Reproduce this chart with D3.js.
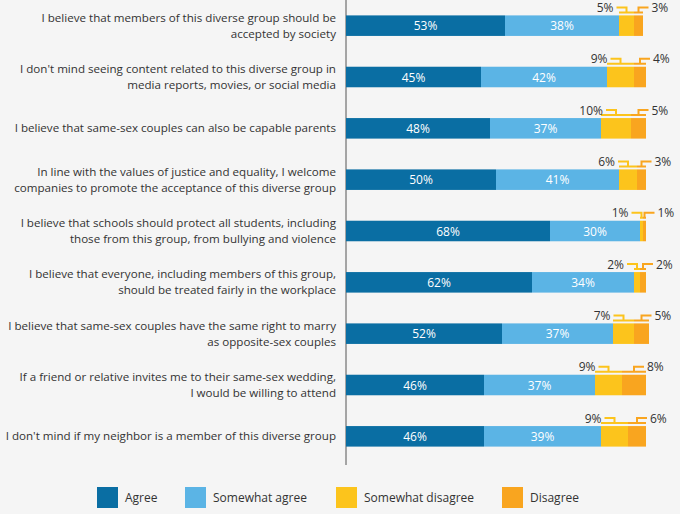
<!DOCTYPE html>
<html lang="en">
<head>
<meta charset="UTF-8">
<script src="https://cdn.jsdelivr.net/npm/d3@7"></script>
<style>
  body { margin: 0; background: #f5f5f5; }
  svg { font-family: "Open Sans", "Noto Sans", sans-serif; }
</style>
</head>
<body>
<svg id="chart" width="680" height="514"></svg>
<script>
var statements = [
  ["I believe that members of this diverse group should be", "accepted by society"],
  ["I don't mind seeing content related to this diverse group in", "media reports, movies, or social media"],
  ["I believe that same-sex couples can also be capable parents"],
  ["In line with the values of justice and equality, I welcome", "companies to promote the acceptance of this diverse group"],
  ["I believe that schools should protect all students, including", "those from this group, from bullying and violence"],
  ["I believe that everyone, including members of this group,", "should be treated fairly in the workplace"],
  ["I believe that same-sex couples have the same right to marry", "as opposite-sex couples"],
  ["If a friend or relative invites me to their same-sex wedding,", "I would be willing to attend"],
  ["I don't mind if my neighbor is a member of this diverse group"]
];
var agree = [53, 45, 48, 50, 68, 62, 52, 46, 46];
var somewhatAgree = [38, 42, 37, 41, 30, 34, 37, 37, 39];
var somewhatDisagree = [5, 9, 10, 6, 1, 2, 7, 9, 9];
var disagree = [3, 4, 5, 3, 1, 2, 5, 8, 6];
var seriesNames = ["Agree", "Somewhat agree", "Somewhat disagree", "Disagree"];
var colors = ["#0a6ea3", "#5bb4e5", "#fcc41c", "#f9a51f"];

var svg = d3.select("#chart");
var x = d3.scaleLinear().domain([0, 100]).range([346, 646]);
var y = d3.scaleBand().domain(d3.range(statements.length)).range([0, 462]).paddingInner(0.6).paddingOuter(0.3);
var series = [agree, somewhatAgree, somewhatDisagree, disagree];

svg.append("line").attr("x1", 346).attr("x2", 346).attr("y1", 0).attr("y2", 465)
  .attr("stroke", "#555").attr("stroke-width", 1);

statements.forEach(function(lines, i) {
  var cy = y(i) + y.bandwidth() / 2;
  var t = svg.append("text").attr("x", 336).attr("text-anchor", "end")
    .attr("font-size", 11.6).attr("fill", "#333");
  lines.forEach(function(l, k) {
    t.append("tspan").attr("x", 336)
      .attr("y", cy + 4 + (k - (lines.length - 1) / 2) * 16).text(l);
  });

  var acc = 0;
  var segs = series.map(function(s, j) {
    var seg = { x0: acc, x1: acc + s[i], v: s[i], j: j };
    acc += s[i];
    return seg;
  });
  segs.forEach(function(sg) {
    svg.append("rect").attr("x", x(sg.x0)).attr("y", y(i))
      .attr("width", x(sg.x1) - x(sg.x0)).attr("height", y.bandwidth())
      .attr("fill", colors[sg.j]);
    if (sg.j < 2) {
      svg.append("text").attr("x", (x(sg.x0) + x(sg.x1)) / 2).attr("y", cy + 4.5)
        .attr("text-anchor", "middle").attr("font-size", 12).attr("fill", "#fff")
        .text(sg.v + "%");
    }
  });

  // callouts for the two disagree segments
  var ly = y(i) - 8;
  [segs[2], segs[3]].forEach(function(sg, k) {
    var mx = (x(sg.x0) + x(sg.x1)) / 2;
    var lx = k === 0 ? mx - 10 : mx + 10;
    var g = svg.append("g").attr("stroke", colors[sg.j]).attr("stroke-width", 2).attr("fill", "none");
    g.append("path").attr("d",
      "M" + lx + "," + ly + "H" + mx + "V" + (y(i) - 3) +
      "M" + x(sg.x0) + "," + (y(i) - 3) + "H" + x(sg.x1));
    svg.append("text").attr("x", k === 0 ? lx - 3 : lx + 3).attr("y", ly + 4.5)
      .attr("text-anchor", k === 0 ? "end" : "start")
      .attr("font-size", 12).attr("fill", "#333").text(sg.v + "%");
  });
});

var legendX = [97, 185, 336, 502];
seriesNames.forEach(function(n, j) {
  svg.append("rect").attr("x", legendX[j]).attr("y", 487).attr("width", 21).attr("height", 21)
    .attr("fill", colors[j]);
  svg.append("text").attr("x", legendX[j] + 28).attr("y", 502).attr("font-size", 12)
    .attr("fill", "#333").text(n);
});
</script>
</body>
</html>
